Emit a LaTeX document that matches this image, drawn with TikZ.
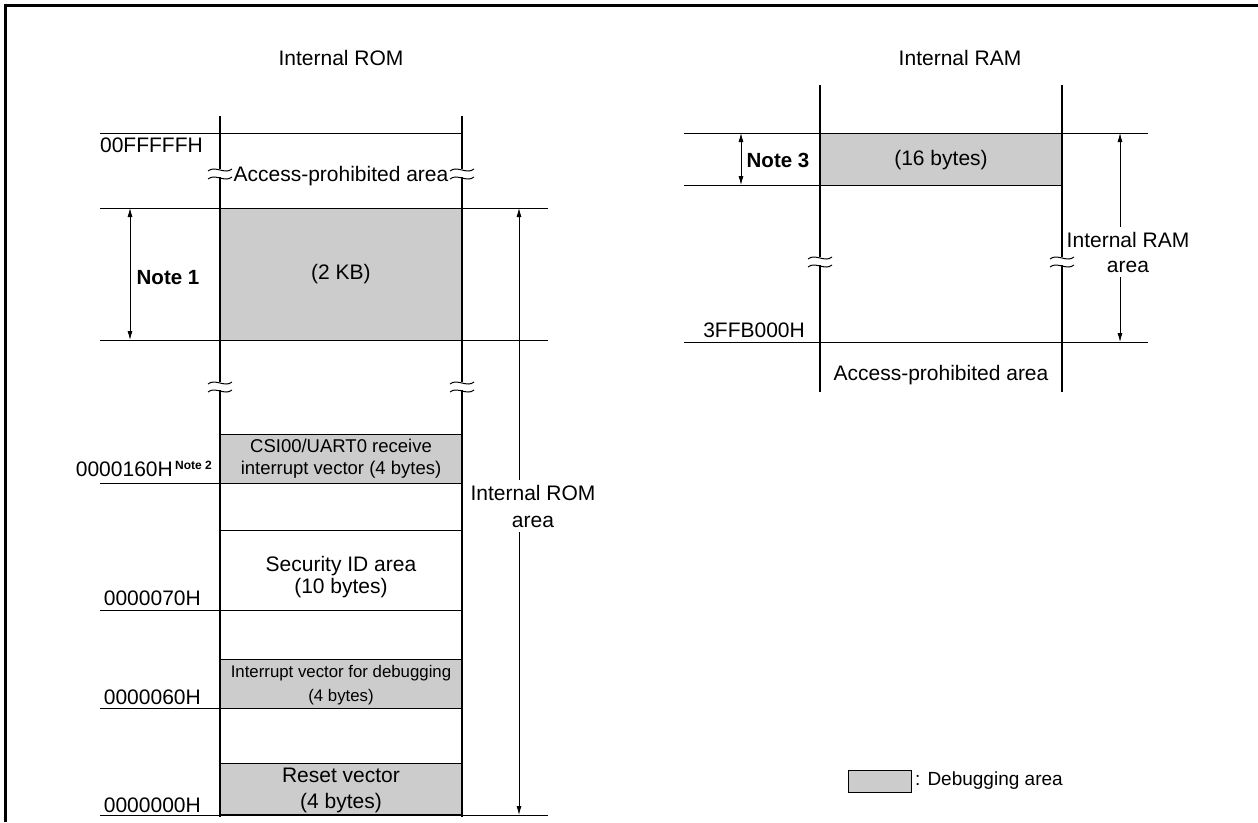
\documentclass[tikz,border=0pt]{standalone}
\usepackage{fontspec}
\setmainfont{Liberation Sans}
\usetikzlibrary{arrows.meta}
\definecolor{dbggrey}{HTML}{CCCCCC}
\begin{document}
\begin{tikzpicture}[x=1pt,y=-1pt,
  colline/.style={line width=2.8pt},
  hline/.style={line width=1pt},
  dbg/.style={fill=dbggrey},
  txt/.style={inner sep=0pt, font=\fontsize{21}{25}\selectfont, align=center},
  smalltxt/.style={inner sep=0pt, font=\fontsize{18.5}{22}\selectfont, align=center},
  tinytxt/.style={inner sep=0pt, font=\fontsize{16.8}{24}\selectfont, align=center},
  notetxt/.style={inner sep=0pt, font=\bfseries\fontsize{20.5}{24}\selectfont},
  dim/.style={line width=0.8pt, {Latex[length=9pt,width=5pt]}-{Latex[length=9pt,width=5pt]}},
  dimhead/.style={line width=0.8pt, -{Latex[length=9pt,width=5pt]}},
  pics/breakmark/.style={code={
    \fill[white] (-3,-4) rectangle (3,4);
    \draw[line width=1pt] (-12,-2) .. controls (-5,-8) and (5,2) .. (12,-4);
    \draw[line width=1pt] (-12,6) .. controls (-5,0) and (5,10) .. (12,4);
  }}
]
\useasboundingbox (0,0) rectangle (1258,822);
% frame
\draw[line width=3pt] (5,822) -- (5,5) -- (1258,5);

% ===== Internal ROM =====
\node[txt] (romtitle) at (341,58) {Internal ROM};

\fill[dbg] (220,208) rectangle (462,340);
\fill[dbg] (220,434) rectangle (462,483);
\fill[dbg] (220,659) rectangle (462,708);
\fill[dbg] (220,763) rectangle (462,815);

\foreach \yy in {133,208,340,434,483,530,610,659,708,763}
  \draw[hline] (220,\yy) -- (462,\yy);
\draw[hline] (100,133) -- (220,133);
\draw[hline] (100,208) -- (220,208) (462,208) -- (548,208);
\draw[hline] (100,340) -- (220,340) (462,340) -- (548,340);
\draw[hline] (100,483) -- (220,483);
\draw[hline] (100,610) -- (220,610);
\draw[hline] (100,708) -- (220,708);
\draw[hline] (100,815) -- (220,815) (462,815) -- (548,815);

\draw[colline] (220,116) -- (220,816.5);
\draw[colline] (462,116) -- (462,816.5);
\draw[line width=2.8pt] (219,815) -- (463,815);

\pic at (220,173) {breakmark};
\pic at (462,173) {breakmark};
\pic at (220,386) {breakmark};
\pic at (462,386) {breakmark};

\node[txt] (romap) at (341,176) {Access-prohibited area};
\node[txt] (kb2) at (341,274) {(2 KB)};
\node[smalltxt] (csi) at (341,459) {CSI00/UART0 receive\\interrupt vector (4 bytes)};
\node[txt, font=\fontsize{21}{21.5}\selectfont] (secid) at (341,577) {Security ID area\\(10 bytes)};
\node[tinytxt] (intdbg) at (341,685) {Interrupt vector for debugging\\(4 bytes)};
\node[txt, font=\fontsize{21}{26}\selectfont] (reset) at (341,790) {Reset vector\\(4 bytes)};

% address labels
\node[txt, anchor=east] (aFFFFF) at (203,145) {00FFFFFH};
\node[txt, anchor=east] (a160) at (173,469) {0000160H};
\node[inner sep=0pt, anchor=base west, font=\bfseries\fontsize{12}{14}\selectfont] (n2) at ([xshift=2pt,yshift=7pt]a160.base east) {Note 2};
\node[txt, anchor=east] (a70) at (201,598) {0000070H};
\node[txt, anchor=east] (a60) at (201,697) {0000060H};
\node[txt, anchor=east] (a00) at (201,805) {0000000H};

% Note 1
\coordinate (n1top) at (130,208);
\coordinate (n1bot) at (130,340);
\draw[dim] (n1top) -- (n1bot);
\node[notetxt] (note1) at (168,278) {Note 1};

% Internal ROM area
\node[txt, font=\fontsize{21}{27}\selectfont, inner ysep=5pt] (romarea) at (533,506) {Internal ROM\\area};
\coordinate (rtop) at (519,208);
\coordinate (rbot) at (519,815);
\draw[dimhead] (rtop|-romarea.north) -- (rtop);
\draw[dimhead] (rbot|-romarea.south) -- (rbot);

% ===== Internal RAM =====
\node[txt] (ramtitle) at (960,58) {Internal RAM};
\fill[dbg] (820,133) rectangle (1062,185);
\draw[hline] (684,133) -- (1148,133);
\draw[hline] (684,185) -- (1062,185);
\draw[hline] (684,342) -- (1148,342);
\draw[colline] (820,85) -- (820,392);
\draw[colline] (1062,85) -- (1062,392);
\pic at (820,261) {breakmark};
\pic at (1062,261) {breakmark};

\node[txt] (b16) at (941,160) {(16 bytes)};
\node[txt] (ramap) at (941,375) {Access-prohibited area};
\node[txt, anchor=east] (a3ffb) at (805,330) {3FFB000H};

\coordinate (n3top) at (741,133);
\coordinate (n3bot) at (741,185);
\draw[dim] (n3top) -- (n3bot);
\node[notetxt] (note3) at (778,160) {Note 3};

\node[txt, inner ysep=5pt] (ramarea) at (1128,252) {Internal RAM\\area};
\coordinate (mtop) at (1120,133);
\coordinate (mbot) at (1120,342);
\draw[dimhead] (mtop|-ramarea.north) -- (mtop);
\draw[dimhead] (mbot|-ramarea.south) -- (mbot);

% legend
\draw[line width=1pt, dbg] (848,770) rectangle (911,792);
\node[inner sep=0pt, anchor=west, font=\fontsize{19}{22}\selectfont] (legend) at (915,781) {: Debugging area};
\end{tikzpicture}
\end{document}
